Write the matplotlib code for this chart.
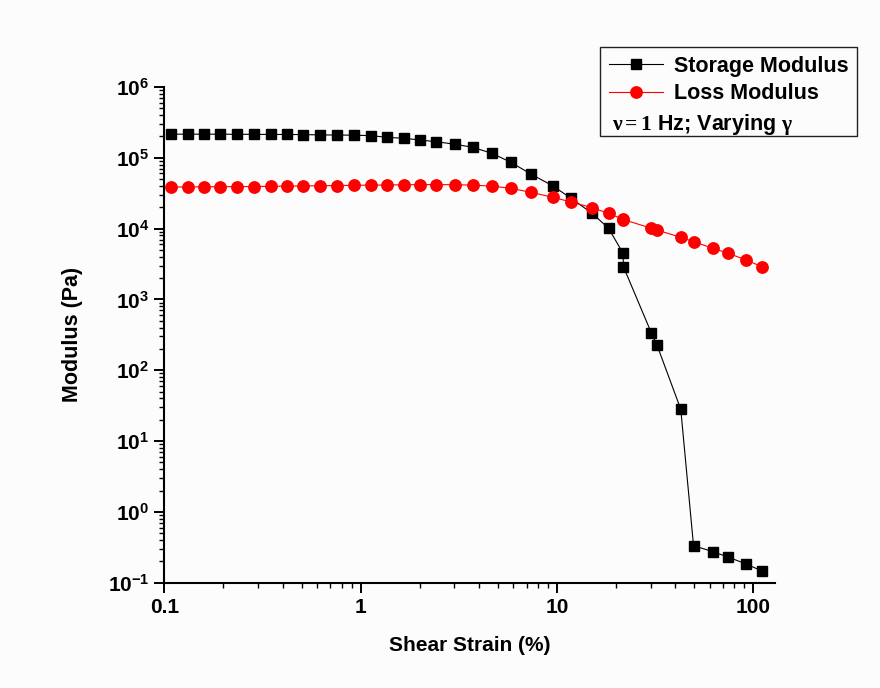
import matplotlib
matplotlib.use("Agg")
import matplotlib.pyplot as plt
import matplotlib.text as mtext
from matplotlib.legend_handler import HandlerBase
from matplotlib.ticker import LogLocator, FuncFormatter, NullFormatter

plt.rcParams['font.family'] = ['Liberation Sans', 'DejaVu Sans']
plt.rcParams['font.weight'] = 'bold'
plt.rcParams['mathtext.fontset'] = 'custom'
plt.rcParams['mathtext.rm'] = 'Liberation Serif'
plt.rcParams['mathtext.it'] = 'Liberation Serif:italic'
plt.rcParams['mathtext.bf'] = 'Liberation Sans:bold'

# Amplitude sweep at 1 Hz
strain = [0.108, 0.1315, 0.160, 0.192, 0.235, 0.286, 0.349, 0.420, 0.511, 0.623,
          0.761, 0.926, 1.126, 1.368, 1.664, 2.01, 2.43, 3.03, 3.73, 4.66,
          5.82, 7.36, 9.54, 11.8, 15.1, 18.3, 21.7, 21.8, 30.2, 32.3,
          42.7, 49.6, 62.3, 74.6, 91.8, 110.7]

storage = [2.15e5, 2.15e5, 2.15e5, 2.15e5, 2.14e5, 2.14e5, 2.13e5, 2.13e5, 2.12e5, 2.1e5,
           2.09e5, 2.08e5, 2.05e5, 1.94e5, 1.88e5, 1.78e5, 1.68e5, 1.55e5, 1.40e5, 1.155e5,
           8.62e4, 5.89e4, 3.99e4, 2.67e4, 1.64e4, 1.01e4, 4.48e3, 2.89e3, 339, 227,
           28.1, 0.333, 0.274, 0.229, 0.184, 0.146]

loss = [3.85e4, 3.87e4, 3.88e4, 3.9e4, 3.9e4, 3.92e4, 3.95e4, 3.97e4, 4.0e4, 4.02e4,
        4.05e4, 4.08e4, 4.1e4, 4.12e4, 4.15e4, 4.17e4, 4.18e4, 4.15e4, 4.1e4, 3.97e4,
        3.70e4, 3.25e4, 2.76e4, 2.37e4, 1.97e4, 1.64e4, 1.35e4, 1.34e4, 1.01e4, 9.54e3,
        7.52e3, 6.52e3, 5.26e3, 4.47e3, 3.6e3, 2.89e3]

series_labels = ['Storage Modulus', 'Loss Modulus']
note_text = r'$\mathrm{\nu = 1}$ Hz; Varying $\mathrm{\gamma}$'
x_ticks = [0.1, 1, 10, 100]


class NoteHandle:
    def __init__(self, text):
        self.text = text


class NoteHandler(HandlerBase):
    """Writes a free-text note in place of a legend handle."""
    def create_artists(self, legend, orig_handle, xdescent, ydescent,
                       width, height, fontsize, trans):
        t = mtext.Text(x=-xdescent + 2, y=-ydescent - 3,
                       text=orig_handle.text, ha='left', va='baseline',
                       fontsize=fontsize, fontweight='bold', transform=trans)
        return [t]


fig = plt.figure(figsize=(8.8, 6.88), dpi=100)
fig.patch.set_facecolor('#fcfcfc')
ax = fig.add_axes([0.1868, 0.1531, 0.6939, 0.7206])
ax.set_facecolor('#fcfcfc')

h1, = ax.plot(strain, storage, color='black', lw=0.8, marker='s', ms=7.4,
              mfc='black', mec='black', zorder=3)
h2, = ax.plot(strain, loss, color='#ff0000', lw=0.8, marker='o', ms=8.2,
              mfc='#ff0000', mec='#ff0000', zorder=4)

ax.set_xscale('log')
ax.set_yscale('log')
ax.set_xlim(0.1, 129)
ax.set_ylim(0.1, 1e6)

ax.xaxis.set_major_locator(plt.FixedLocator(x_ticks))
ax.xaxis.set_major_formatter(FuncFormatter(lambda v, p: f'{v:g}'))
ax.xaxis.set_minor_locator(LogLocator(base=10, subs=range(2, 10), numticks=20))
ax.xaxis.set_minor_formatter(NullFormatter())
ax.yaxis.set_major_locator(LogLocator(base=10, numticks=20))
ax.yaxis.set_minor_locator(LogLocator(base=10, subs=range(2, 10), numticks=20))
ax.yaxis.set_minor_formatter(NullFormatter())

for side in ['top', 'right']:
    ax.spines[side].set_visible(False)
for side in ['left', 'bottom']:
    ax.spines[side].set_linewidth(1.5)

ax.tick_params(which='major', direction='out', length=7, width=1.4,
               labelsize=15, pad=4)
ax.tick_params(which='minor', direction='out', length=3.5, width=1.0)

ax.set_xlabel('Shear Strain (%)', fontsize=15, fontweight='bold', labelpad=14)
ax.set_ylabel('Modulus (Pa)', fontsize=15.5, fontweight='bold', labelpad=17.5)

leg = ax.legend(handles=[h1, h2, NoteHandle(note_text)],
                labels=series_labels + [' '],
                handler_map={NoteHandle: NoteHandler()},
                loc='upper right', bbox_to_anchor=(1.134, 1.0805),
                bbox_transform=ax.transAxes, frameon=True, fancybox=False,
                edgecolor='#222222', framealpha=1, facecolor='#fcfcfc',
                prop={'weight': 'bold', 'size': 15.5},
                handlelength=2.5, handletextpad=0.5, labelspacing=0.3,
                borderpad=0.4, borderaxespad=0)
leg.get_frame().set_linewidth(1.0)
leg.get_texts()[2].set_fontsize(6)

fig.savefig('out.png', dpi=100, facecolor=fig.get_facecolor())
